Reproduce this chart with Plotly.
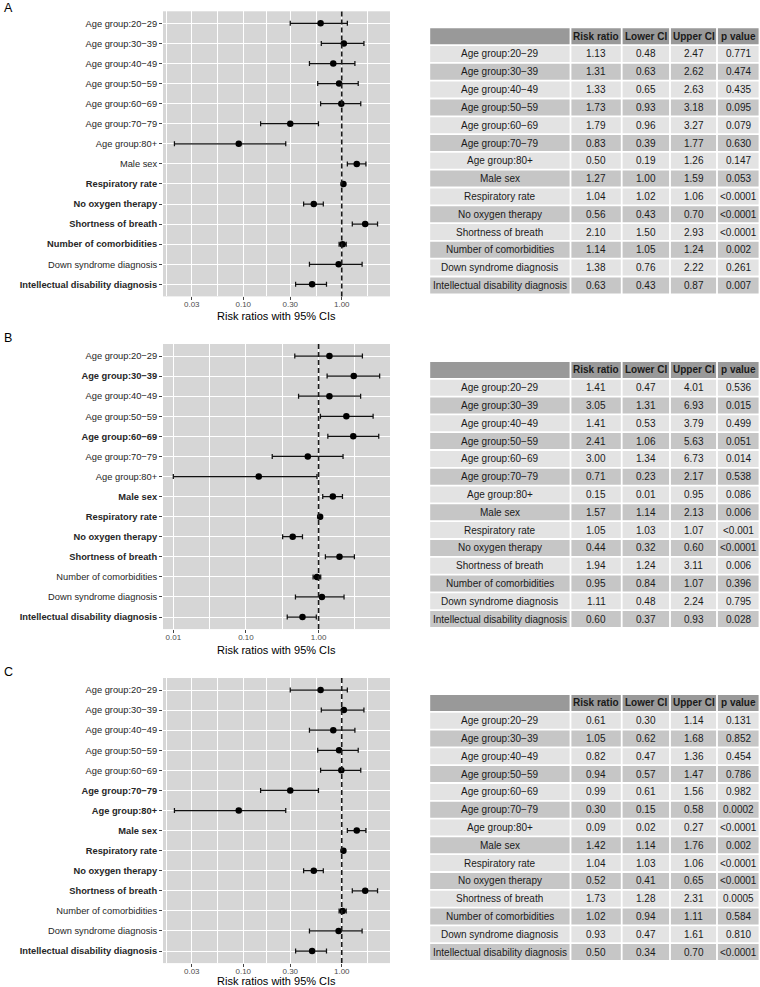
import math
import plotly.graph_objects as go

W, H = 760, 987
FONT = "Liberation Sans, Arial, Helvetica, sans-serif"

# ---------------- data ----------------
labels = ["Age group:20\u221229", "Age group:30\u221239", "Age group:40\u221249",
          "Age group:50\u221259", "Age group:60\u221269", "Age group:70\u221279",
          "Age group:80+", "Male sex", "Respiratory rate", "No oxygen therapy",
          "Shortness of breath", "Number of comorbidities",
          "Down syndrome diagnosis", "Intellectual disability diagnosis"]

# Table A
rr_a = [1.13, 1.31, 1.33, 1.73, 1.79, 0.83, 0.50, 1.27, 1.04, 0.56, 2.10, 1.14, 1.38, 0.63]
lo_a = [0.48, 0.63, 0.65, 0.93, 0.96, 0.39, 0.19, 1.00, 1.02, 0.43, 1.50, 1.05, 0.76, 0.43]
hi_a = [2.47, 2.62, 2.63, 3.18, 3.27, 1.77, 1.26, 1.59, 1.06, 0.70, 2.93, 1.24, 2.22, 0.87]
p_a = ["0.771", "0.474", "0.435", "0.095", "0.079", "0.630", "0.147", "0.053",
       "<0.0001", "<0.0001", "<0.0001", "0.002", "0.261", "0.007"]

# Table B
rr_b = [1.41, 3.05, 1.41, 2.41, 3.00, 0.71, 0.15, 1.57, 1.05, 0.44, 1.94, 0.95, 1.11, 0.60]
lo_b = [0.47, 1.31, 0.53, 1.06, 1.34, 0.23, 0.01, 1.14, 1.03, 0.32, 1.24, 0.84, 0.48, 0.37]
hi_b = [4.01, 6.93, 3.79, 5.63, 6.73, 2.17, 0.95, 2.13, 1.07, 0.60, 3.11, 1.07, 2.24, 0.93]
p_b = ["0.536", "0.015", "0.499", "0.051", "0.014", "0.538", "0.086", "0.006",
       "<0.001", "<0.0001", "0.006", "0.396", "0.795", "0.028"]

# Table C
rr_c = [0.61, 1.05, 0.82, 0.94, 0.99, 0.30, 0.09, 1.42, 1.04, 0.52, 1.73, 1.02, 0.93, 0.50]
lo_c = [0.30, 0.62, 0.47, 0.57, 0.61, 0.15, 0.02, 1.14, 1.03, 0.41, 1.28, 0.94, 0.47, 0.34]
hi_c = [1.14, 1.68, 1.36, 1.47, 1.56, 0.58, 0.27, 1.76, 1.06, 0.65, 2.31, 1.11, 1.61, 0.70]
p_c = ["0.131", "0.852", "0.454", "0.786", "0.982", "0.0002", "<0.0001", "0.002",
       "<0.0001", "<0.0001", "0.0005", "0.584", "0.810", "<0.0001"]

# Forest plot of panel A as drawn in the picture (same estimates as panel C)
plot_rr_a = [0.61, 1.05, 0.82, 0.94, 0.99, 0.30, 0.09, 1.42, 1.04, 0.52, 1.73, 1.02, 0.93, 0.50]
plot_lo_a = [0.30, 0.62, 0.47, 0.57, 0.61, 0.15, 0.02, 1.14, 1.03, 0.41, 1.28, 0.94, 0.47, 0.34]
plot_hi_a = [1.14, 1.68, 1.36, 1.47, 1.56, 0.58, 0.27, 1.76, 1.06, 0.65, 2.31, 1.11, 1.61, 0.70]

ticks_ac = [0.03, 0.1, 0.3, 1.0]
ticktext_ac = ["0.03", "0.10", "0.30", "1.00"]
ticks_b = [0.01, 0.1, 1.0]
ticktext_b = ["0.01", "0.10", "1.00"]
header = ["", "Risk ratio", "Lower CI", "Upper CI", "p value"]

# ---------------- styling ----------------
PANEL_BG = "#D6D6D6"
HDR_BG = "#999999"
ROW_LIGHT = "#E3E3E3"
ROW_DARK = "#C6C6C6"
COL_EDGES = [429.3, 570.5, 621.7, 670.0, 717.0, 759.5]   # table column edges (px)
ROW_H = 17.8


def py(v):
    return 1 - v / H


def px(v):
    return v / W


def sig(p):
    return p.startswith("<") or float(p) < 0.05


def minor_vals(majors, lo_log, hi_log):
    b = [math.log10(m) for m in majors]
    bd = b[1] - b[0]
    if lo_log < b[0]:
        b = [b[0] - bd] + b
    if hi_log > b[-1]:
        b = b + [b[-1] + bd]
    mids = [(b[i] + b[i + 1]) / 2 for i in range(len(b) - 1)]
    return [10 ** m for m in mids if lo_log <= m <= hi_log]


panels = [
    dict(name="A", rr=plot_rr_a, lo=plot_lo_a, hi=plot_hi_a, p=p_a,
         t_rr=rr_a, t_lo=lo_a, t_hi=hi_a, top=11.3, bot=296.4, rng=[-1.815, 0.49],
         ticks=ticks_ac, ttext=ticktext_ac, tab_top=27.3, lab_y=8, title_y=315.5),
    dict(name="B", rr=rr_b, lo=lo_b, hi=hi_b, p=p_b,
         t_rr=rr_b, t_lo=lo_b, t_hi=hi_b, top=344.0, bot=629.1, rng=[-2.142, 0.983],
         ticks=ticks_b, ttext=ticktext_b, tab_top=361.0, lab_y=338, title_y=649.5),
    dict(name="C", rr=rr_c, lo=lo_c, hi=hi_c, p=p_c,
         t_rr=rr_c, t_lo=lo_c, t_hi=hi_c, top=678.0, bot=963.1, rng=[-1.815, 0.49],
         ticks=ticks_ac, ttext=ticktext_ac, tab_top=694.0, lab_y=672, title_y=980.5),
]

fig = go.Figure()
layout = dict(width=W, height=H, margin=dict(l=0, r=0, t=0, b=0),
              paper_bgcolor="white", plot_bgcolor=PANEL_BG, showlegend=False,
              font=dict(family=FONT, color="black"))
shapes = []
annotations = []
n = len(labels)
ypos = list(range(n))

for i, pn in enumerate(panels):
    k = "" if i == 0 else str(i + 1)
    xa, ya = "x" + k, "y" + k
    fig.add_trace(go.Scatter(
        x=pn["rr"], y=ypos, xaxis=xa, yaxis=ya, mode="markers",
        marker=dict(color="black", size=6.5),
        error_x=dict(type="data", symmetric=False,
                     array=[h - r for h, r in zip(pn["hi"], pn["rr"])],
                     arrayminus=[r - l for r, l in zip(pn["rr"], pn["lo"])],
                     color="#111111", thickness=1.25, width=2.5),
        hoverinfo="skip"))
    ticktext = [("<b>%s</b>" % lab) if sig(p) else lab for lab, p in zip(labels, pn["p"])]
    layout["xaxis" + k] = dict(
        domain=[px(163), px(390)], anchor=ya, type="log", range=pn["rng"],
        tickmode="array", tickvals=pn["ticks"], ticktext=pn["ttext"],
        ticks="outside", ticklen=3, tickcolor="#444", tickwidth=1,
        ticklabelstandoff=-3,
        tickfont=dict(size=8, color="#4D4D4D", family=FONT),
        showgrid=True, gridcolor="white", gridwidth=1.2, showline=False,
        minor=dict(tickmode="array",
                   tickvals=minor_vals(pn["ticks"], pn["rng"][0], pn["rng"][1]),
                   showgrid=True, gridcolor="white", gridwidth=0.6, ticks=""),
        fixedrange=True)
    layout["yaxis" + k] = dict(
        domain=[py(pn["bot"]), py(pn["top"])], anchor=xa,
        range=[n - 1 + 0.6, -0.6], tickmode="array", tickvals=ypos, ticktext=ticktext,
        ticks="outside", ticklen=3, tickcolor="#444", tickwidth=1,
        tickfont=dict(size=9.3, color="#262626", family=FONT),
        showgrid=True, gridcolor="white", gridwidth=1.2, zeroline=False,
        showline=False, fixedrange=True)
    shapes.append(dict(type="line", xref=xa, yref=ya + " domain", x0=1, x1=1, y0=0, y1=1,
                       line=dict(color="#1A1A1A", width=1.6, dash="5px,3px"), layer="above"))
    annotations.append(dict(text="Risk ratios with 95% CIs", xref=xa + " domain", x=0.5,
                            yref="paper", y=py(pn["title_y"]), xanchor="center",
                            yanchor="middle", showarrow=False,
                            font=dict(size=11, color="black", family=FONT)))
    annotations.append(dict(text=pn["name"], xref="paper", x=px(2), yref="paper",
                            y=py(pn["lab_y"]), xanchor="left", yanchor="middle",
                            showarrow=False, font=dict(size=12.5, color="black", family=FONT)))

    # ---- table (cells built from the table arrays) ----
    cols = [labels,
            ["%.2f" % v for v in pn["t_rr"]],
            ["%.2f" % v for v in pn["t_lo"]],
            ["%.2f" % v for v in pn["t_hi"]],
            [v.replace("<", "&lt;") for v in pn["p"]]]
    rows = [["<b>%s</b>" % h if h else "" for h in header]] + \
           [[c[r] for c in cols] for r in range(n)]
    top = pn["tab_top"]
    for r, row in enumerate(rows):
        y0 = top + r * ROW_H
        y1 = y0 + ROW_H
        if r == 0:
            fill = HDR_BG
        else:
            fill = ROW_LIGHT if (r - 1) % 2 == 0 else ROW_DARK
        for c, txt in enumerate(row):
            x0, x1 = COL_EDGES[c], COL_EDGES[c + 1]
            shapes.append(dict(type="rect", xref="paper", yref="paper",
                               x0=px(x0 + 0.9), x1=px(x1 - 0.9),
                               y0=py(y1 - 0.9), y1=py(y0 + 0.9),
                               fillcolor=fill, line=dict(width=0), layer="below"))
            if txt:
                annotations.append(dict(text=txt, xref="paper", yref="paper",
                                        x=px((x0 + x1) / 2), y=py((y0 + y1) / 2),
                                        xanchor="center", yanchor="middle",
                                        showarrow=False,
                                        font=dict(size=10, color="#1A1A1A", family=FONT)))

layout["shapes"] = shapes
layout["annotations"] = annotations
fig.update_layout(**layout)
fig.write_html("out.html", config={"displayModeBar": False},
               post_script="document.body.style.margin='0px';")
